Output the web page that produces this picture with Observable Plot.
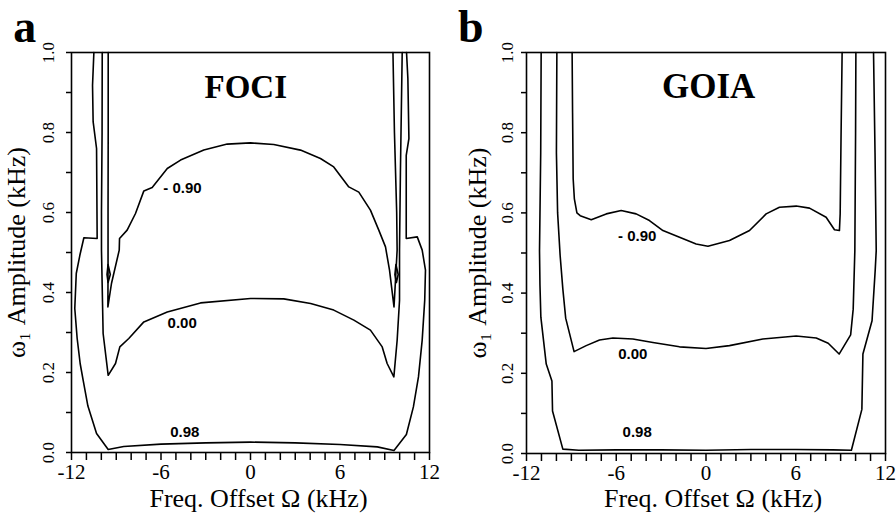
<!DOCTYPE html>
<html>
<head>
<meta charset="utf-8">
<script src="https://cdn.jsdelivr.net/npm/d3@7"></script>
<script src="https://cdn.jsdelivr.net/npm/@observablehq/plot@0.6"></script>
<style>
  body { margin: 0; background: #fff; width: 896px; height: 513px; position: relative; overflow: hidden; }
  .panel { position: absolute; top: 0; }
</style>
</head>
<body>
<div id="pa" class="panel" style="left:0px"></div>
<div id="pb" class="panel" style="left:448px"></div>
<script>
// ---------- ticks and tick labels ----------
const xTicks = d3.range(-12, 13, 1);
const xTickLabels = [-12, -6, 0, 6, 12];
const yTicks = d3.range(0, 11).map(i => i / 10);
const yTickLabels = [0, 0.2, 0.4, 0.6, 0.8, 1.0];
const xTitle = "Freq. Offset \u03A9 (kHz)";
const yTitle = "\u03C9\u2081 Amplitude (kHz)";
const panelLetters = ["a", "b"];
const panelTitles = ["FOCI", "GOIA"];
const contourLevels = ["- 0.90", "0.00", "0.98"];

// ---------- panel a : FOCI contours [offset kHz, amplitude kHz] ----------
const fociMinus090 = [
  [-9.54,1.0],[-9.54,0.80],[-9.55,0.60],[-9.55,0.46],[-9.56,0.364],[-9.32,0.4225],[-8.8,0.506],
  [-8.78,0.535],[-8.27,0.556],[-7.71,0.5975],[-7.15,0.654],[-6.59,0.6625],[-5.58,0.71],[-4.69,0.731],
  [-3.13,0.756],[-1.56,0.771],[0,0.774],[1.56,0.77],[3.35,0.756],[4.69,0.735],[5.58,0.714],
  [6.59,0.664],[7.26,0.651],[8.04,0.606],[8.6,0.556],[9.05,0.514],[9.32,0.456],[9.62,0.364],
  [9.72,0.43],[9.83,0.506],[9.8,0.6],[9.65,0.8],[9.55,1.0]
];
const fociLoopLeft = [[-9.55,0.47],[-9.4,0.445],[-9.55,0.425],[-9.62,0.445],[-9.55,0.47]];
const fociLoopRight = [[9.75,0.47],[9.9,0.445],[9.78,0.425],[9.68,0.445],[9.75,0.47]];
const foci000 = [
  [-9.94,1.0],[-9.95,0.8],[-9.99,0.6],[-9.99,0.506],[-9.88,0.2975],[-9.54,0.193],[-9.05,0.2225],
  [-8.76,0.264],[-8.16,0.285],[-7.15,0.3265],[-5.58,0.3515],[-3.35,0.374],[0,0.385],[2.23,0.384],
  [4.03,0.3725],[5.58,0.356],[6.93,0.331],[8.04,0.306],[8.83,0.264],[9.16,0.2225],[9.61,0.189],
  [9.83,0.28],[9.99,0.38],[9.99,0.506],[10.05,0.7],[10.17,1.0]
];
const foci098 = [
  [-10.5,1.0],[-10.59,0.918],[-10.55,0.827],[-10.32,0.76],[-10.28,0.535],[-11.17,0.537],[-11.44,0.493],
  [-11.68,0.4475],[-11.78,0.36],[-11.62,0.285],[-11.42,0.2225],[-11.22,0.181],[-10.9,0.116],
  [-10.32,0.0475],[-9.54,0.0075],[-8.5,0.015],[-6,0.021],[-3,0.024],[0,0.026],[3,0.024],[6,0.02],
  [8.5,0.014],[9.62,0.005],[10.45,0.045],[10.92,0.114],[11.26,0.189],[11.51,0.281],[11.68,0.381],
  [11.73,0.456],[11.51,0.506],[11.18,0.539],[10.44,0.535],[10.44,0.743],[10.62,0.785],[10.55,0.935],[10.46,1.0]
];
const fociLabelX = [-4.56, -4.58, -4.4];
const fociLabelY = [0.648, 0.3125, 0.039];

// ---------- panel b : GOIA contours ----------
const goiaMinus090 = [
  [-8.95,1.0],[-8.92,0.85],[-8.88,0.685],[-8.8,0.635],[-8.63,0.6],[-8.41,0.593],[-7.67,0.583],
  [-6.67,0.5975],[-5.67,0.606],[-4.67,0.5975],[-3.78,0.581],[-2.88,0.556],[-1.77,0.539],[-0.66,0.5225],
  [0.13,0.517],[1.57,0.531],[2.91,0.556],[4.02,0.5975],[4.91,0.614],[6.03,0.617],[6.92,0.612],
  [8.03,0.589],[8.59,0.558],[8.92,0.556],[8.97,0.598],[9.03,0.797],[9.1,1.0]
];
const goia000 = [
  [-9.97,1.0],[-10.0,0.75],[-9.92,0.6],[-9.75,0.493],[-9.57,0.41],[-9.38,0.3375],[-8.82,0.254],
  [-8.01,0.269],[-7.12,0.283],[-6.22,0.288],[-4.89,0.2855],[-3.55,0.277],[-1.77,0.266],[0,0.262],
  [1.57,0.269],[3.8,0.2855],[6.03,0.293],[7.37,0.288],[8.17,0.275],[8.9,0.248],[9.67,0.296],
  [9.84,0.36],[9.95,0.505],[10.0,0.8],[10.02,1.0]
];
const goia098 = [
  [-11.02,1.0],[-11.05,0.75],[-11.13,0.505],[-11.1,0.42],[-11.04,0.34],[-10.68,0.223],[-10.3,0.181],
  [-10.26,0.106],[-9.57,0.011],[-8.5,0.008],[-6,0.009],[-3,0.009],[0,0.008],[3,0.01],[6,0.01],
  [8.5,0.009],[9.72,0.008],[10.42,0.11],[10.49,0.248],[11.1,0.331],[11.31,0.456],[11.38,0.506],
  [11.3,0.75],[11.2,1.0]
];
const goiaLabelX = [-4.6, -4.89, -4.6];
const goiaLabelY = [0.531, 0.2357, 0.04];

const rowsOf = (id, pts) => pts.map(([x, y]) => ({id, x, y}));
const SERIF = "'Liberation Serif', 'Times New Roman', serif";
const SANS = "'Liberation Sans', Arial, sans-serif";

function panel(o) {
  const rows = o.lines.flatMap(([id, pts]) => rowsOf(id, pts));
  const labels = contourLevels.map((t, i) => ({t, x: o.labX[i], y: o.labY[i]}));
  const pxX = 358 / 24, pxY = 400; // px per data unit (for tick lengths only)
  return Plot.plot({
    width: o.width, height: 513,
    marginLeft: o.ml, marginRight: o.mr, marginTop: o.mt, marginBottom: o.mb,
    style: {fontFamily: SERIF, background: "white", color: "black"},
    x: {domain: [-12, 12], axis: null},
    y: {domain: [0, 1], axis: null},
    marks: [
      Plot.ruleX(xTicks, {x: d => d, y1: 0, y2: -8 / pxY, stroke: "black", strokeWidth: 1.5}),
      Plot.ruleY(yTicks, {y: d => d, x1: -12, x2: -12 - 5 / pxX, stroke: "black", strokeWidth: 1.5}),
      Plot.line(rows, {x: "x", y: "y", z: "id", stroke: "black", strokeWidth: 1.6}),
      Plot.frame({stroke: "black", strokeWidth: 1.6}),
      Plot.text(xTickLabels, {x: d => d, y: () => 0, dy: 12, text: d => String(d),
        textAnchor: "middle", lineAnchor: "top", fontFamily: SERIF, fontSize: 21, fill: "black"}),
      Plot.text(yTickLabels, {x: () => -12, y: d => d, dx: o.ytDx, rotate: -90,
        text: d => d.toFixed(1), textAnchor: "middle", lineAnchor: "bottom",
        fontFamily: SERIF, fontSize: 17, fill: "black"}),
      Plot.text(labels, {x: "x", y: "y", text: "t", textAnchor: "middle", lineAnchor: "bottom",
        fontFamily: SANS, fontWeight: "bold", fontSize: 15, fill: "black"}),
      Plot.text([o.title], {x: () => o.titleX, y: () => o.titleY, text: d => d, textAnchor: "middle",
        lineAnchor: "bottom", fontFamily: SERIF, fontWeight: "bold", fontSize: o.titleSize, fill: "black"}),
      Plot.text([yTitle], {frameAnchor: "left", dx: o.yTitleDx, rotate: -90, text: d => d,
        textAnchor: "middle", lineAnchor: "bottom", fontFamily: SERIF, fontSize: 26, fill: "black"}),
      Plot.text([xTitle], {frameAnchor: "bottom", dx: o.xTitleDx, dy: o.xTitleDy, text: d => d,
        textAnchor: "middle", lineAnchor: "bottom", fontFamily: SERIF, fontSize: 26, fill: "black"}),
      Plot.text([o.letter], {frameAnchor: "top-left", dx: o.letterDx, dy: o.letterDy, text: d => d,
        textAnchor: "start", lineAnchor: "bottom", fontFamily: SERIF, fontWeight: "bold", fontSize: 46, fill: "black"})
    ]
  });
}

document.getElementById("pa").append(panel({
  lines: [["m090", fociMinus090], ["loopL", fociLoopLeft], ["loopR", fociLoopRight], ["000", foci000], ["098", foci098]],
  letter: panelLetters[0], title: panelTitles[0], titleX: -0.32, titleY: 0.8875, titleSize: 33,
  labX: fociLabelX, labY: fociLabelY,
  width: 448, ml: 71, mr: 19, mt: 52, mb: 61,
  letterDx: -58.3, letterDy: -10.3, ytDx: -17.7, yTitleDx: -47, xTitleDx: 8, xTitleDy: 54
}));
document.getElementById("pb").append(panel({
  lines: [["m090", goiaMinus090], ["000", goia000], ["098", goia098]],
  letter: panelLetters[1], title: panelTitles[1], titleX: 0.18, titleY: 0.887, titleSize: 35,
  labX: goiaLabelX, labY: goiaLabelY,
  width: 448, ml: 78, mr: 11, mt: 52, mb: 60,
  letterDx: -68.6, letterDy: -10.6, ytDx: -13.6, yTitleDx: -41, xTitleDx: 7, xTitleDy: 53.8
}));
</script>
</body>
</html>
